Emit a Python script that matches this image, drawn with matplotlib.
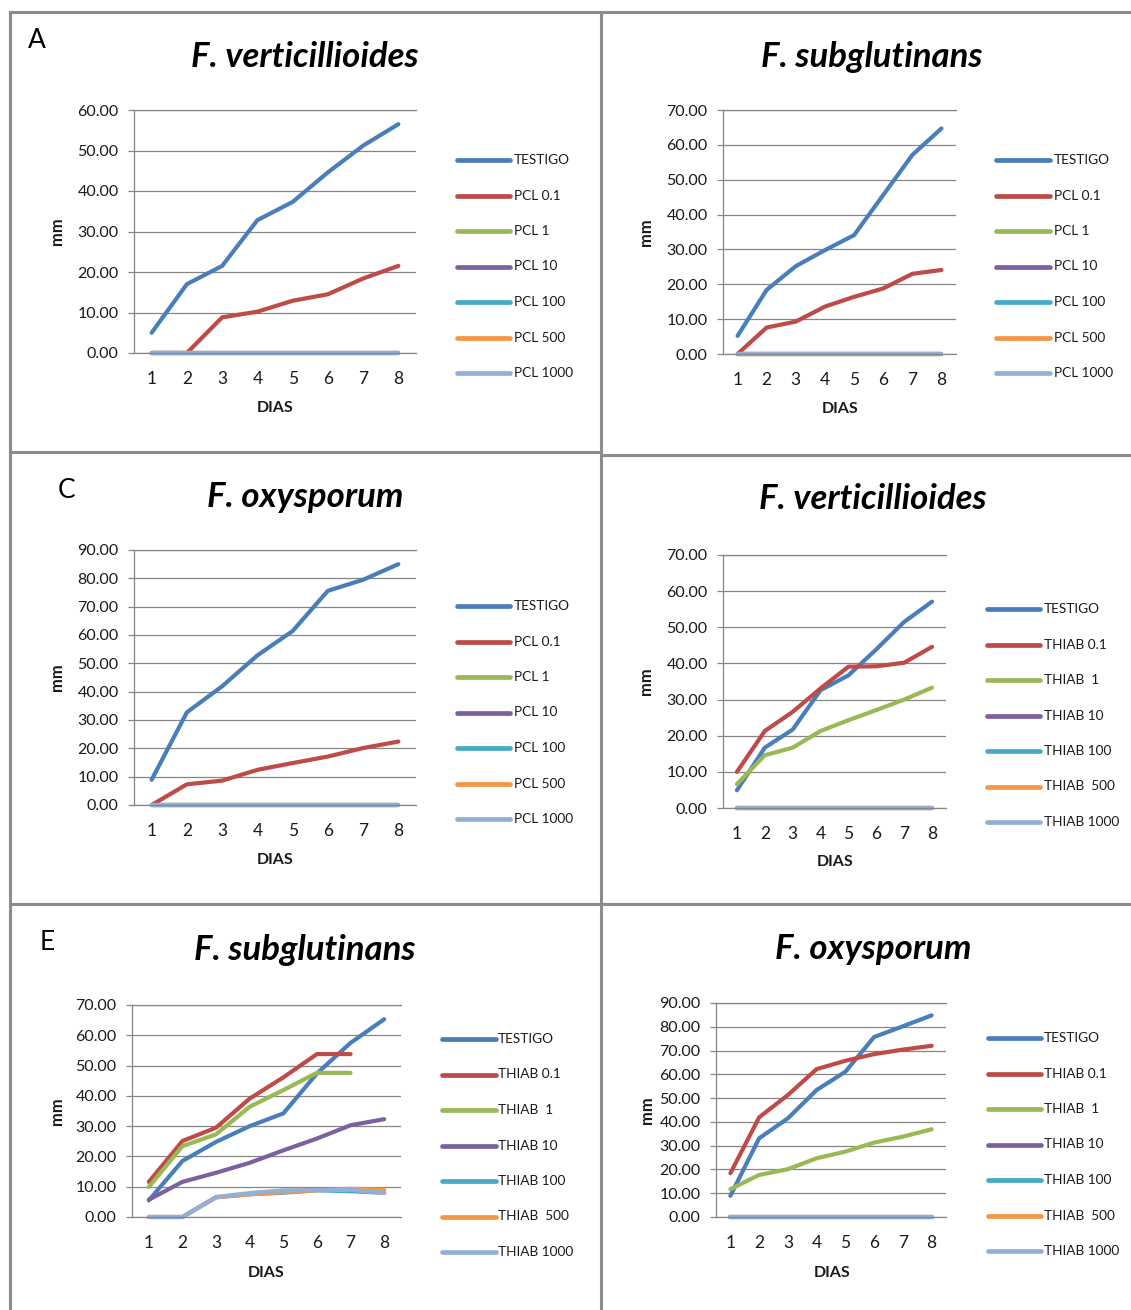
import matplotlib
matplotlib.use("Agg")
import matplotlib.pyplot as plt
from matplotlib.lines import Line2D
import numpy as np

nan = np.nan
W, H = 1131, 1310

days = [1, 2, 3, 4, 5, 6, 7, 8]

pcl_names = ["TESTIGO", "PCL 0.1", "PCL 1", "PCL 10", "PCL 100", "PCL 500", "PCL 1000"]
thiab_names = ["TESTIGO", "THIAB 0.1", "THIAB  1", "THIAB 10", "THIAB 100", "THIAB  500", "THIAB 1000"]
colors = ["#4A7EBB", "#BE4B48", "#98B954", "#7D60A0", "#46AAC5", "#F69544", "#94AED6"]

zeros = [0, 0, 0, 0, 0, 0, 0, 0]

# A: F. verticillioides (PCL)
a_testigo = [5.0, 17.0, 21.5, 32.8, 37.3, 44.6, 51.2, 56.5]
a_pcl01 = [0, 0, 8.8, 10.2, 12.9, 14.5, 18.4, 21.5]
# B: F. subglutinans (PCL)
b_testigo = [5.2, 18.4, 25.2, 29.8, 34.1, 45.6, 57.1, 64.7]
b_pcl01 = [0, 7.6, 9.3, 13.6, 16.4, 18.8, 23.0, 24.1]
# C: F. oxysporum (PCL)
c_testigo = [8.9, 32.7, 41.9, 52.8, 61.4, 75.6, 79.5, 85.0]
c_pcl01 = [0, 7.3, 8.6, 12.4, 14.8, 17.1, 20.1, 22.4]
# D: F. verticillioides (THIAB)
d_testigo = [4.9, 16.7, 21.7, 32.6, 36.7, 43.9, 51.5, 57.1]
d_thiab01 = [10.0, 21.3, 26.6, 33.1, 39.1, 39.2, 40.2, 44.6]
d_thiab1 = [6.6, 14.6, 16.7, 21.3, 24.3, 27.1, 30.0, 33.3]
# E: F. subglutinans (THIAB)
e_testigo = [5.5, 18.5, 24.8, 30.0, 34.2, 47.4, 57.5, 65.3]
e_thiab01 = [11.6, 25.1, 29.5, 39.1, 46.1, 53.8, 53.8, nan]
e_thiab1 = [9.9, 23.4, 27.3, 36.4, 41.9, 47.6, 47.6, nan]
e_thiab10 = [5.7, 11.6, 14.6, 17.9, 22.0, 25.9, 30.3, 32.3]
e_thiab100 = [0, 0, 6.5, 7.5, 8.0, 8.8, 8.5, 8.0]
e_thiab500 = [0, 0, 6.5, 7.5, 8.2, 8.8, 9.3, 9.0]
e_thiab1000 = [0, 0, 6.6, 7.9, 8.8, 8.9, 9.0, 7.9]
# F: F. oxysporum (THIAB)
f_testigo = [8.9, 33.1, 41.5, 53.4, 61.1, 75.7, 80.2, 84.8]
f_thiab01 = [18.4, 41.9, 51.3, 62.2, 65.7, 68.5, 70.4, 72.0]
f_thiab1 = [11.7, 17.7, 20.1, 24.7, 27.5, 31.3, 33.8, 36.9]

panels = [
    dict(title="F. verticillioides", letter="A", names=pcl_names,
         series=[a_testigo, a_pcl01, zeros, zeros, zeros, zeros, zeros], ymax=60,
         rect=(134, 110, 416, 353), tpos=(305, 57), lpos=(37, 40),
         leg=(457, 510, 514, 160), mm=(57, 231), dias=(275, 408)),
    dict(title="F. subglutinans", letter=None, names=pcl_names,
         series=[b_testigo, b_pcl01, zeros, zeros, zeros, zeros, zeros], ymax=70,
         rect=(723, 110, 956, 354), tpos=(872, 57), lpos=None,
         leg=(996, 1050, 1054, 160), mm=(646, 232), dias=(840, 409)),
    dict(title="F. oxysporum", letter="C", names=pcl_names,
         series=[c_testigo, c_pcl01, zeros, zeros, zeros, zeros, zeros], ymax=90,
         rect=(134, 550, 416, 805), tpos=(305, 497), lpos=(67, 490),
         leg=(457, 510, 514, 606), mm=(57, 677), dias=(275, 860)),
    dict(title="F. verticillioides", letter=None, names=thiab_names,
         series=[d_testigo, d_thiab01, d_thiab1, zeros, zeros, zeros, zeros], ymax=70,
         rect=(723, 555, 946, 808), tpos=(873, 499), lpos=None,
         leg=(987, 1040, 1044, 609), mm=(646, 681), dias=(835, 862)),
    dict(title="F. subglutinans", letter="E", names=thiab_names,
         series=[e_testigo, e_thiab01, e_thiab1, e_thiab10, e_thiab100, e_thiab500, e_thiab1000], ymax=70,
         rect=(132, 1005, 401, 1217), tpos=(305, 950), lpos=(47, 943),
         leg=(442, 496, 498, 1039), mm=(57, 1111), dias=(266, 1273)),
    dict(title="F. oxysporum", letter=None, names=thiab_names,
         series=[f_testigo, f_thiab01, f_thiab1, zeros, zeros, zeros, zeros], ymax=90,
         rect=(716, 1003, 946, 1217), tpos=(873, 949), lpos=None,
         leg=(988, 1041, 1044, 1038), mm=(647, 1110), dias=(832, 1273)),
]

FONT = ["Lato", "DejaVu Sans"]
plt.rcParams["font.family"] = FONT
GRID = "#868686"
TXT = "#1a1a1a"

fig = plt.figure(figsize=(W / 100, H / 100), dpi=100)


def fx(x):
    return x / W


def fy(y):
    return 1 - y / H


# panel borders
BC = "#8c8c8c"
for (x0, y0, x1, y1) in [(10, 12, 1131, 12), (10, 12, 10, 1310), (601, 12, 601, 1310),
                         (10, 452, 601, 452), (601, 455, 1131, 455), (10, 904, 1131, 904)]:
    fig.add_artist(Line2D([fx(x0), fx(x1)], [fy(y0), fy(y1)], color=BC, lw=2.2))

for p in panels:
    x0, y0, x1, y1 = p["rect"]
    ax = fig.add_axes([fx(x0), fy(y1), (x1 - x0) / W, (y1 - y0) / H])
    ax.set_xlim(0.5, 8.5)
    ax.set_ylim(0, p["ymax"])
    yt = np.arange(0, p["ymax"] + 1, 10)
    ax.set_yticks(yt)
    ax.set_yticklabels([f"{v:.2f}" for v in yt])
    ax.set_xticks(days)
    ax.set_xticklabels([str(d) for d in days])
    ax.yaxis.grid(True, color=GRID, lw=0.9)
    ax.set_axisbelow(True)
    ax.spines["right"].set_visible(False)
    for s in ["left", "top", "bottom"]:
        ax.spines[s].set_color(GRID)
        ax.spines[s].set_linewidth(0.9)
    ax.tick_params(axis="y", length=4, width=0.9, color=GRID, pad=7, labelsize=11.5, labelcolor=TXT)
    ax.tick_params(axis="x", length=0, pad=13, labelsize=12.5, labelcolor=TXT)
    for vals, c in zip(p["series"], colors):
        ax.plot(days, vals, color=c, lw=3.0, solid_capstyle="round", solid_joinstyle="round", clip_on=False)

    # titles and labels
    fig.text(fx(p["tpos"][0]), fy(p["tpos"][1]), p["title"], ha="center", va="center",
             fontsize=25, fontweight="bold", fontstyle="italic", color="black")
    if p["letter"]:
        fig.text(fx(p["lpos"][0]), fy(p["lpos"][1]), p["letter"], ha="center", va="center",
                 fontsize=19, color="black")
    fig.text(fx(p["mm"][0]), fy(p["mm"][1]), "mm", ha="center", va="center", rotation=90,
             fontsize=12, fontweight="bold", color=TXT)
    fig.text(fx(p["dias"][0]), fy(p["dias"][1]), "DIAS", ha="center", va="center",
             fontsize=11.5, fontweight="bold", color=TXT)

    # legend
    lx0, lx1, ltx, ly0 = p["leg"]
    for i, (name, c) in enumerate(zip(p["names"], colors)):
        yy = ly0 + i * 35.5
        fig.add_artist(Line2D([fx(lx0), fx(lx1)], [fy(yy), fy(yy)], color=c, lw=3.4,
                              solid_capstyle="round"))
        fig.text(fx(ltx), fy(yy), name, ha="left", va="center", fontsize=9.8, color=TXT)

fig.savefig("out.png", dpi=100, facecolor="white")
